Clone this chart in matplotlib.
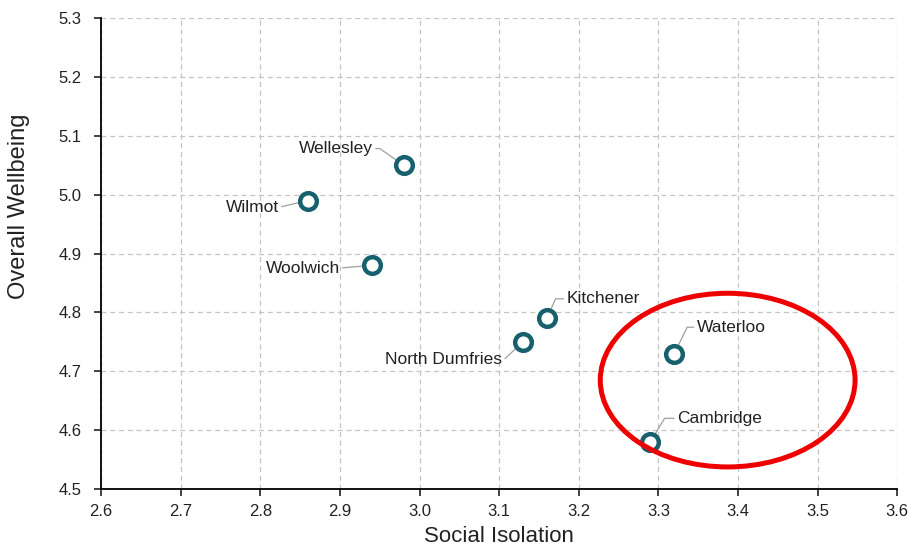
import matplotlib.pyplot as plt
from matplotlib.patches import Ellipse

plt.rcParams['font.family'] = ['Liberation Sans', 'DejaVu Sans']

# data
places = ['Wellesley', 'Wilmot', 'Woolwich', 'Kitchener', 'North Dumfries', 'Waterloo', 'Cambridge']
isolation = [2.98, 2.86, 2.94, 3.16, 3.13, 3.32, 3.29]
wellbeing = [5.05, 4.99, 4.88, 4.79, 4.75, 4.73, 4.58]

x_ticks = [2.6, 2.7, 2.8, 2.9, 3.0, 3.1, 3.2, 3.3, 3.4, 3.5, 3.6]
y_ticks = [4.5, 4.6, 4.7, 4.8, 4.9, 5.0, 5.1, 5.2, 5.3]

# label offset (points), alignment, angle of the leader line at the marker
label_pos = {
    'Wellesley': (-22, 12, 'right', -35),
    'Wilmot': (-21, -5, 'right', 13),
    'Woolwich': (-23, -2, 'right', 5),
    'Kitchener': (14, 14, 'left', 66),
    'North Dumfries': (-15, -13, 'right', 43),
    'Waterloo': (16, 19, 'left', 64),
    'Cambridge': (19, 17, 'left', 59),
}

# highlight ring around the two southern cities
hl_center = (3.387, 4.685)
hl_width, hl_height = 0.32, 0.295

fig = plt.figure(figsize=(9.1, 5.47), dpi=100)
ax = fig.add_axes([0.111, 0.106, 0.875, 0.861])

ax.plot(isolation, wellbeing, 'o', ms=12, mfc='white', mec='#17606d', mew=3.2, zorder=5)

for name, x, y in zip(places, isolation, wellbeing):
    dx, dy, ha, ang = label_pos[name]
    ax.annotate(name, (x, y), xytext=(dx, dy), textcoords='offset points',
                ha=ha, va='center', fontsize=12.5, color='#222222',
                arrowprops=dict(arrowstyle='-', color='#a0a0a0', lw=0.9,
                                shrinkA=0, shrinkB=3,
                                connectionstyle=f'angle,angleA=0,angleB={ang},rad=0'))

ax.add_patch(Ellipse(hl_center, hl_width, hl_height, fill=False,
                     edgecolor='#ee0000', lw=3.6, zorder=6))

ax.set_xlim(2.6, 3.6)
ax.set_ylim(4.5, 5.3)
ax.set_xticks(x_ticks)
ax.set_yticks(y_ticks)
ax.set_xticklabels([f'{v:.1f}' for v in x_ticks])
ax.set_yticklabels([f'{v:.1f}' for v in y_ticks])
ax.tick_params(labelsize=12, colors='#222222', direction='out', length=5, width=1.2)
ax.tick_params(axis='x', pad=6)
ax.tick_params(axis='y', pad=9)
ax.grid(True, ls=(0, (4, 3)), color='#c4c4c4', lw=0.9)
ax.set_axisbelow(True)
for s in ['top', 'right']:
    ax.spines[s].set_visible(False)
for s in ['left', 'bottom']:
    ax.spines[s].set_linewidth(1.3)

ax.set_xlabel('Social Isolation', fontsize=16, color='#222222', labelpad=5)
ax.set_ylabel('Overall Wellbeing', fontsize=17, color='#222222')
ax.yaxis.set_label_coords(-0.089, 0.6)

fig.savefig('out.png', dpi=100)
